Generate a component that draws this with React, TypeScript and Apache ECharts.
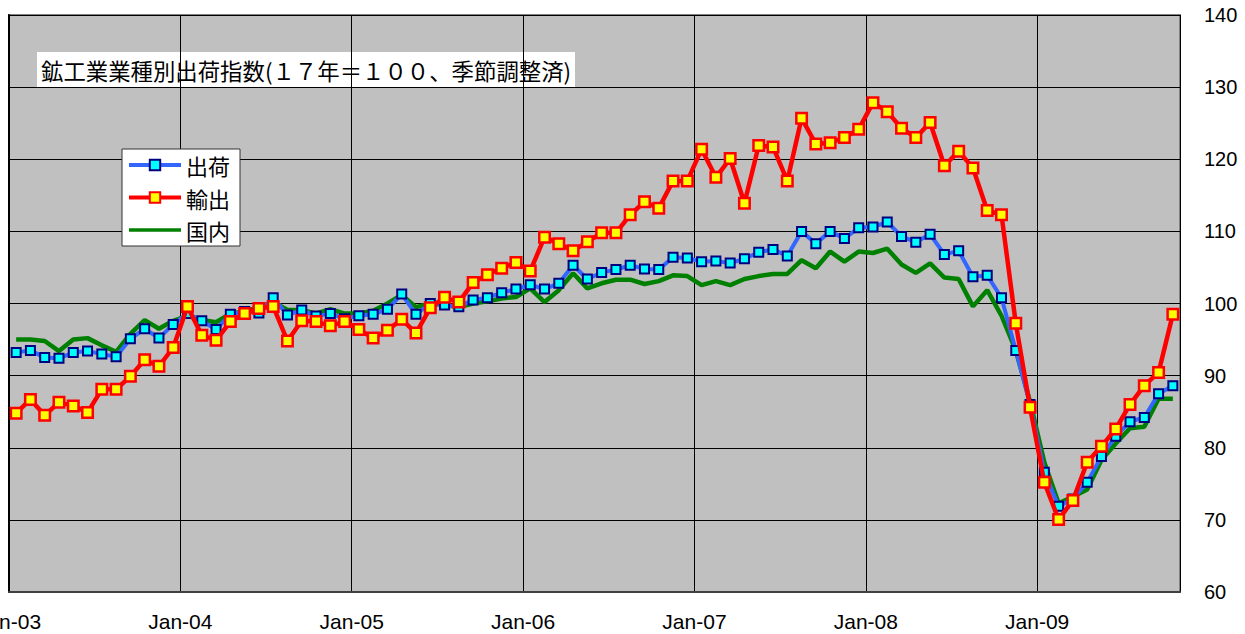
import React, { useEffect, useRef } from 'react';
import * as echarts from 'echarts';

const yearSuffixes = ['03', '04', '05', '06', '07', '08', '09'];
const monthNames = ['Jan', 'Feb', 'Mar', 'Apr', 'May', 'Jun', 'Jul', 'Aug', 'Sep', 'Oct', 'Nov', 'Dec'];
const months: string[] = yearSuffixes.flatMap((y) => monthNames.map((m) => `${m}-${y}`)).slice(0, 82);
const xTickLabels = ['Jan-03', 'Jan-04', 'Jan-05', 'Jan-06', 'Jan-07', 'Jan-08', 'Jan-09'];

const titleText = '鉱工業業種別出荷指数(１７年＝１００、季節調整済)';
const seriesNames = ['出荷', '輸出', '国内'];

// 出荷
const shipments = [
  93.2, 93.5, 92.5, 92.4, 93.2, 93.4, 93.0, 92.6, 95.1, 96.5, 95.2, 97.1,
  98.6, 97.6, 96.4, 98.5, 98.9, 98.7, 100.8, 98.4, 99.1, 98.25, 98.6, 97.9,
  98.3, 98.5, 99.2, 101.3, 98.5, 100.0, 99.8, 99.55, 100.5, 100.8, 101.5, 102.0,
  102.6, 102.0, 102.8, 105.3, 103.4, 104.3, 104.7, 105.3, 104.8, 104.7, 106.4, 106.3,
  105.8, 105.9, 105.6, 106.2, 107.1, 107.5, 106.6, 110.0, 108.3, 110.0, 109.0, 110.5,
  110.6, 111.3, 109.3, 108.5, 109.6, 106.8, 107.3, 103.7, 103.9, 100.8, 93.5, 86.0,
  76.6, 71.9, 72.9, 75.2, 78.8, 81.6, 83.6, 84.2, 87.5, 88.6,
];
// 輸出
const exportsIdx = [
  84.8, 86.7, 84.5, 86.3, 85.8, 84.9, 88.1, 88.1, 89.9, 92.2, 91.3, 93.9,
  99.6, 95.6, 94.9, 97.5, 98.6, 99.3, 99.6, 94.8, 97.6, 97.5, 96.9, 97.5,
  96.4, 95.2, 96.3, 97.8, 95.9, 99.4, 100.85, 100.2, 102.9, 104.0, 104.9, 105.7,
  104.5, 109.2, 108.3, 107.3, 108.55, 109.8, 109.8, 112.3, 114.1, 113.2, 117.0, 117.0,
  121.4, 117.5, 120.1, 113.9, 121.9, 121.7, 117.0, 125.7, 122.1, 122.3, 123.0, 124.15,
  127.85, 126.6, 124.3, 123.0, 125.1, 119.1, 121.1, 118.8, 112.9, 112.3, 97.25, 85.6,
  75.2, 70.05, 72.7, 78.0, 80.2, 82.6, 86.0, 88.6, 90.45, 98.5,
];
// 国内
const domestic = [
  95.0, 95.0, 94.8, 93.4, 95.0, 95.2, 94.2, 93.3, 95.8, 97.7, 96.5, 97.6,
  98.3, 97.7, 97.4, 98.6, 98.9, 99.5, 100.2, 99.1, 99.1, 98.6, 99.2, 98.6,
  98.6, 99.0, 100.0, 101.2, 99.5, 100.0, 99.8, 99.5, 100.0, 100.3, 100.7, 100.9,
  102.1, 100.2, 101.85, 104.2, 102.1, 102.8, 103.3, 103.3, 102.7, 103.1, 103.9, 103.8,
  102.55, 103.1, 102.55, 103.4, 103.8, 104.1, 104.1, 106.0, 104.9, 107.2, 105.8, 107.2,
  107.0, 107.6, 105.4, 104.25, 105.55, 103.6, 103.4, 99.6, 101.85, 98.3, 93.5, 86.4,
  78.0, 72.3, 73.2, 74.2, 78.3, 80.6, 82.7, 82.9, 86.8, 86.8,
];

const toPoints = (vals: number[]) => months.map((_, i) => [i + 0.5, vals[i]]);

const CJK = "'Noto Sans CJK JP', 'Noto Sans', sans-serif";
const LATIN = "'Liberation Sans', Arial, sans-serif";

export default function App() {
  const ref = useRef<HTMLDivElement>(null);
  useEffect(() => {
    if (!ref.current) return;
    const chart = echarts.init(ref.current, undefined, { renderer: 'svg' });
    chart.setOption({
      animation: false,
      backgroundColor: '#ffffff',
      grid: {
        left: 9,
        top: 15,
        width: 1171,
        height: 577,
        show: true,
        containLabel: false,
        outerBoundsMode: 'none',
        backgroundColor: '#c0c0c0',
        borderColor: '#808080',
        borderWidth: 2,
      },
      xAxis: {
        type: 'value',
        min: 0,
        max: months.length,
        interval: 12,
        axisLine: { show: true, lineStyle: { color: '#404040', width: 2 } },
        axisTick: { show: false },
        splitLine: { show: true, lineStyle: { color: '#000000', width: 1 } },
        axisLabel: {
          margin: 19,
          fontSize: 21,
          fontFamily: "'Liberation Sans Narrow', " + LATIN,
          color: '#000000',
          formatter: (v: number) => (v % 12 === 0 ? xTickLabels[v / 12] ?? '' : ''),
        },
      },
      yAxis: [
        {
          type: 'value',
          position: 'right',
          min: 60,
          max: 140,
          interval: 10,
          axisLine: { show: false },
          axisTick: { show: false },
          splitLine: { show: true, lineStyle: { color: '#000000', width: 1 } },
          axisLabel: { margin: 24, fontSize: 20, fontFamily: LATIN, color: '#000000' },
        },
        {
          type: 'value',
          position: 'left',
          min: 60,
          max: 140,
          interval: 10,
          axisLine: { show: true, lineStyle: { color: '#000000', width: 2 } },
          axisTick: { show: false },
          axisLabel: { show: false },
          splitLine: { show: false },
        },
      ],
      legend: {
        left: 122,
        top: 149,
        orient: 'vertical',
        backgroundColor: '#ffffff',
        borderColor: '#333333',
        borderWidth: 1,
        borderRadius: 0,
        padding: [5, 10, 5, 5],
        itemWidth: 52,
        itemHeight: 13,
        itemGap: 10.5,
        lineStyle: { width: 4 },
        textStyle: { fontSize: 22, fontFamily: CJK, color: '#000000' },
        data: [
          { name: seriesNames[0] },
          { name: seriesNames[1] },
          { name: seriesNames[2], icon: 'path://M0,0M52,13M0,4.75h52v3.5h-52z' },
        ],
      },
      graphic: [
        {
          type: 'group',
          left: 37,
          top: 52,
          children: [
            { type: 'rect', shape: { x: 0, y: 0, width: 538, height: 35 }, style: { fill: '#ffffff' } },
            {
              type: 'text',
              x: 4,
              y: 17.5,
              style: {
                text: titleText,
                fontSize: 22.4,
                fontFamily: CJK,
                fill: '#000000',
                verticalAlign: 'middle',
                align: 'left',
              },
            },
          ],
        },
      ],
      series: [
        {
          name: seriesNames[2],
          type: 'line',
          data: toPoints(domestic),
          symbol: 'none',
          itemStyle: { color: '#008000' },
          lineStyle: { color: '#008000', width: 4.5 },
          z: 2,
        },
        {
          name: seriesNames[0],
          type: 'line',
          data: toPoints(shipments),
          symbol: 'rect',
          symbolSize: 9,
          itemStyle: { color: '#00ffff', borderColor: '#000080', borderWidth: 2 },
          lineStyle: { color: '#3366ff', width: 4 },
          z: 3,
        },
        {
          name: seriesNames[1],
          type: 'line',
          data: toPoints(exportsIdx),
          symbol: 'rect',
          symbolSize: 10.5,
          itemStyle: { color: '#ffff00', borderColor: '#ff0000', borderWidth: 2.5 },
          lineStyle: { color: '#ff0000', width: 4.5 },
          z: 4,
        },
      ],
    });
    return () => chart.dispose();
  }, []);
  return (
    <div
      ref={ref}
      style={{ position: 'fixed', left: 0, top: 0, width: 1245, height: 634, background: '#ffffff' }}
    />
  );
}
